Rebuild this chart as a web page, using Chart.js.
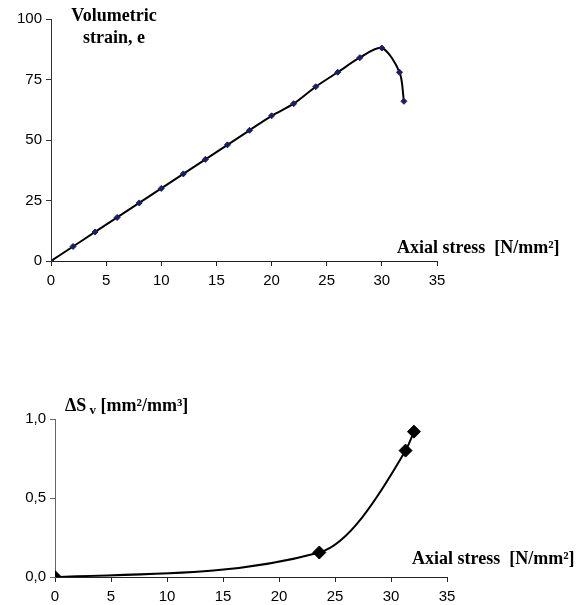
<!DOCTYPE html>
<html>
<head>
<meta charset="utf-8">
<script src="https://cdn.jsdelivr.net/npm/chart.js@4"></script>
<style>
  body { margin: 0; background: #fff; }
  #wrap { position: relative; width: 577px; height: 605px; }
  canvas { position: absolute; left: 0; }
  .lbl { position: absolute; font-family: "Liberation Serif", "Times New Roman", serif; font-weight: bold; font-size: 18px; color: #000; white-space: nowrap; line-height: 22px; }
</style>
</head>
<body>
<div id="wrap">
  <canvas id="top" width="577" height="300" style="top:0"></canvas>
  <canvas id="bottom" width="577" height="225" style="top:380px"></canvas>
  <div class="lbl" style="left:54px; top:4px; text-align:center; width:120px">Volumetric<br>strain, e</div>
  <div class="lbl" style="left:397px; top:236px">Axial stress&nbsp;&nbsp;[N/mm²]</div>
  <div class="lbl" style="left:65px; top:394px">ΔS<span style="font-size:13px; position:relative; top:3px">&nbsp;v</span> [mm²/mm³]</div>
  <div class="lbl" style="left:412px; top:547px">Axial stress&nbsp;&nbsp;[N/mm²]</div>
</div>
<script>
// top chart: volumetric strain vs axial stress
var stressTop = [0, 2, 4, 6, 8, 10, 12, 14, 16, 18, 20, 22, 24, 26, 28, 30, 31.6, 32];
var strainTop = [0, 6, 12, 18, 24, 30, 36, 42, 48, 54, 60, 65, 72, 78, 84, 88, 78, 66];
var yTicksTop = [0, 25, 50, 75, 100];

// bottom chart: delta S_v vs axial stress
var stressBot = [0, 23.6, 31.3, 32.05];
var svBot = [0, 0.155, 0.80, 0.92];
var yTicksBot = [0, 0.5, 1.0];

var xTicks = [0, 5, 10, 15, 20, 25, 30, 35];

function toXY(xs, ys) {
    return xs.map(function (x, i) { return { x: x, y: ys[i] }; });
}

var tickFont = { family: '"Liberation Sans", Arial, sans-serif', size: 15 };

function axes(yMin, yMax, yTicks, fmt, yWidth, xHeight, yColor) {
    return {
        x: {
            type: 'linear', min: 0, max: 35,
            afterBuildTicks: function (s) { s.ticks = xTicks.map(function (v) { return { value: v }; }); },
            afterFit: function (s) { s.height = xHeight; },
            grid: { drawOnChartArea: false, drawTicks: true, tickLength: 5, color: '#222' },
            border: { display: true, color: '#222', width: 1 },
            ticks: { color: '#000', font: tickFont, padding: 6, maxRotation: 0 }
        },
        y: {
            type: 'linear', min: yMin, max: yMax,
            afterBuildTicks: function (s) { s.ticks = yTicks.map(function (v) { return { value: v }; }); },
            afterFit: function (s) { s.width = yWidth; },
            grid: { drawOnChartArea: false, drawTicks: true, tickLength: 5, color: yColor },
            border: { display: true, color: yColor, width: 1 },
            ticks: { color: '#000', font: tickFont, padding: 4, callback: fmt }
        }
    };
}

new Chart(document.getElementById('top'), {
    type: 'scatter',
    data: {
        datasets: [{
            data: toXY(stressTop, strainTop),
            showLine: true,
            borderColor: '#000',
            borderWidth: 2,
            tension: 0.3,
            pointStyle: 'rectRot',
            pointRadius: 3,
            pointBackgroundColor: '#1c1c6b',
            pointBorderColor: '#1c1c6b',
            pointBorderWidth: 1
        }]
    },
    options: {
        responsive: false,
        animation: false,
        events: [],
        layout: { padding: { left: 0, right: 140, top: 19, bottom: 7 } },
        plugins: { legend: { display: false }, tooltip: { enabled: false } },
        scales: axes(0, 100, yTicksTop, function (v) { return v; }, 51, 32, '#333')
    }
});

new Chart(document.getElementById('bottom'), {
    type: 'scatter',
    data: {
        datasets: [{
            data: toXY(stressBot, svBot),
            showLine: true,
            borderColor: '#000',
            borderWidth: 2,
            cubicInterpolationMode: 'monotone',
            pointStyle: 'rectRot',
            pointRadius: 6.5,
            pointBackgroundColor: '#000',
            pointBorderColor: '#000',
            pointBorderWidth: 1
        }]
    },
    options: {
        responsive: false,
        animation: false,
        events: [],
        layout: { padding: { left: 0, right: 130, top: 39, bottom: 0 } },
        plugins: { legend: { display: false }, tooltip: { enabled: false } },
        scales: axes(0, 1, yTicksBot, function (v) { return v.toFixed(1).replace('.', ','); }, 55, 28, '#666')
    }
});
</script>
</body>
</html>
